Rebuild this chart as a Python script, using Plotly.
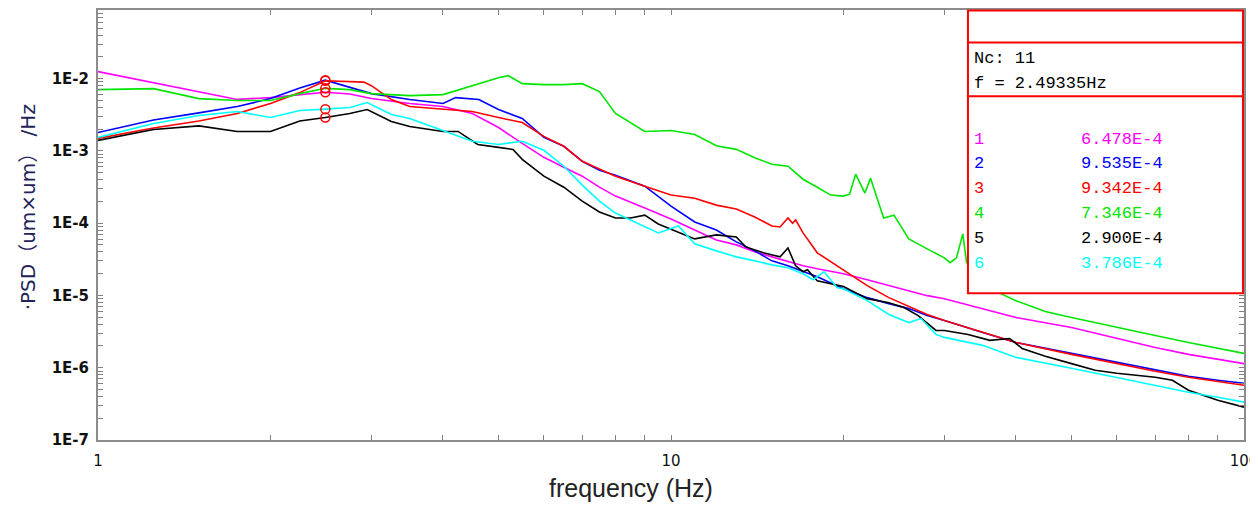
import math
import plotly.graph_objects as go

# ---------------- data ----------------
cursor_freq = 2.49335
cursor_nc = "11"

freq_1 = [1, 1.25, 1.5, 1.75, 2, 2.25, 2.49335, 2.75, 3, 3.5, 4, 4.5, 5, 5.5, 6, 6.5, 7, 7.5, 8, 9, 10,
          11, 12, 13, 14, 15, 16, 17, 18, 20, 22, 24, 26, 28, 30, 35, 40, 50, 60, 70, 80, 90, 100]
psd_1 = [1.25e-2, 8.78e-3, 6.55e-3, 5.16e-3, 5.47e-3, 6.02e-3, 6.478e-3, 6.12e-3, 5.30e-3, 4.53e-3, 4.11e-3,
         3.30e-3, 2.11e-3, 1.27e-3, 8.16e-4, 5.94e-4, 4.47e-4, 3.15e-4, 2.37e-4, 1.62e-4, 1.14e-4,
         8.06e-5, 5.87e-5, 5.01e-5, 4.02e-5, 3.42e-5, 2.92e-5, 2.57e-5, 2.34e-5, 2.00e-5, 1.65e-5,
         1.37e-5, 1.16e-5, 9.94e-6, 9.03e-6, 6.58e-6, 4.95e-6, 3.60e-6, 2.54e-6, 1.91e-6, 1.53e-6,
         1.30e-6, 1.14e-6]

freq_2 = [1, 1.25, 1.5, 1.75, 2, 2.25, 2.49335, 2.75, 3, 3.5, 4, 4.21, 4.62, 5, 5.5, 6, 6.5, 7, 7.5, 8, 9,
          10, 11, 12, 13, 14, 15, 16, 17, 18, 20, 22, 24, 26, 28, 30, 35, 40, 50, 60, 70, 80, 90, 100]
psd_2 = [1.80e-3, 2.68e-3, 3.36e-3, 4.11e-3, 5.30e-3, 7.40e-3, 9.535e-3, 7.52e-3, 6.21e-3, 5.14e-3, 4.53e-3,
         5.47e-3, 5.14e-3, 3.74e-3, 2.81e-3, 1.54e-3, 1.16e-3, 7.19e-4, 5.41e-4, 4.62e-4, 3.25e-4,
         1.72e-4, 1.04e-4, 8.06e-5, 5.51e-5, 4.14e-5, 3.01e-5, 2.57e-5, 2.13e-5, 1.81e-5, 1.24e-5,
         9.33e-6, 7.71e-6, 6.58e-6, 5.27e-6, 4.50e-6, 3.08e-6, 2.24e-6, 1.58e-6, 1.18e-6, 9.21e-7,
         7.61e-7, 6.71e-7, 6.10e-7]

freq_3 = [1, 1.25, 1.5, 1.75, 2, 2.25, 2.49335, 2.75, 2.91, 3.0, 3.25, 3.5, 4, 4.5, 5, 5.5, 6, 6.5, 7, 7.5,
          8, 9, 10, 11, 12, 13, 14, 15, 15.5, 16, 16.3, 16.5, 17, 18, 20, 22, 24, 26, 28, 30, 35, 40,
          50, 60, 70, 80, 90, 100]
psd_3 = [1.49e-3, 2.08e-3, 2.60e-3, 3.30e-3, 4.53e-3, 6.41e-3, 9.342e-3, 9.09e-3, 8.95e-3, 8.0e-3, 5.14e-3,
         4.11e-3, 3.74e-3, 3.51e-3, 2.90e-3, 2.47e-3, 1.59e-3, 1.16e-3, 7.19e-4, 5.60e-4, 4.47e-4,
         3.25e-4, 2.45e-4, 2.22e-4, 1.78e-4, 1.57e-4, 1.22e-4, 9.15e-5, 8.86e-5, 1.18e-4, 1.0e-4,
         1.11e-4, 7.33e-5, 3.89e-5, 2.27e-5, 1.37e-5, 9.33e-6, 7.01e-6, 5.45e-6, 4.50e-6, 3.08e-6,
         2.24e-6, 1.53e-6, 1.14e-6, 8.92e-7, 7.37e-7, 6.49e-7, 5.72e-7]

freq_4 = [1, 1.25, 1.5, 1.75, 2, 2.25, 2.49335, 2.75, 3, 3.5, 4, 4.5, 5, 5.2, 5.5, 6, 6.5, 7, 7.5, 8, 9,
          10, 11, 12, 13, 14, 15, 16, 17, 18, 19, 20, 20.5, 21, 21.4, 21.8, 22.3, 23.5, 24.5, 26, 28,
          30, 30.7, 31.5, 32.3, 32.8, 35, 37, 40, 45, 50, 60, 70, 80, 90, 100]
psd_4 = [7.05e-3, 7.28e-3, 5.30e-3, 4.98e-3, 4.98e-3, 6.21e-3, 7.346e-3, 7.05e-3, 6.21e-3, 5.83e-3, 6.02e-3,
         8.01e-3, 1.03e-2, 1.10e-2, 8.53e-3, 8.27e-3, 8.27e-3, 8.53e-3, 6.62e-3, 3.30e-3, 1.86e-3,
         1.92e-3, 1.69e-3, 1.18e-3, 1.05e-3, 8.04e-4, 6.54e-4, 6.14e-4, 4.06e-4, 3.15e-4, 2.45e-4,
         2.37e-4, 2.52e-4, 4.76e-4, 3.47e-4, 2.61e-4, 4.20e-4, 1.18e-4, 1.29e-4, 6.06e-5, 4.41e-5,
         3.31e-5, 2.84e-5, 3.31e-5, 7.11e-5, 2.84e-5, 1.60e-5, 1.13e-5, 8.48e-6, 5.98e-6, 4.95e-6,
         3.60e-6, 2.80e-6, 2.24e-6, 1.85e-6, 1.58e-6]

freq_5 = [1, 1.25, 1.5, 1.75, 2, 2.25, 2.49335, 2.75, 2.95, 3.25, 3.5, 4, 4.25, 4.6, 5, 5.3, 5.5, 6, 6.5,
          7, 7.5, 8, 8.5, 9, 9.5, 10, 11, 12, 13, 13.5, 14.5, 15.5, 16, 16.5, 17, 17.3, 18, 20, 22,
          24, 25.5, 27, 29, 30, 33, 36, 39, 41, 45, 50, 55, 60, 65, 70, 75, 80, 90, 100]
psd_5 = [1.40e-3, 1.98e-3, 2.22e-3, 1.86e-3, 1.86e-3, 2.60e-3, 2.90e-3, 3.30e-3, 3.74e-3, 2.56e-3, 2.18e-3,
         1.86e-3, 1.86e-3, 1.23e-3, 1.12e-3, 1.05e-3, 7.66e-4, 4.47e-4, 3.15e-4, 2.02e-4, 1.43e-4,
         1.18e-4, 1.18e-4, 1.29e-4, 9.75e-5, 8.32e-5, 6.06e-5, 6.88e-5, 6.45e-5, 4.70e-5, 3.89e-5,
         3.42e-5, 4.55e-5, 2.57e-5, 2.13e-5, 2.27e-5, 1.60e-5, 1.33e-5, 9.03e-6, 7.95e-6, 6.80e-6,
         5.27e-6, 3.28e-6, 3.28e-6, 2.89e-6, 2.39e-6, 2.54e-6, 1.85e-6, 1.44e-6, 1.14e-6, 9.21e-7,
         8.37e-7, 7.86e-7, 7.37e-7, 6.71e-7, 4.88e-7, 3.55e-7, 2.85e-7]

freq_6 = [1, 1.25, 1.5, 1.75, 2, 2.25, 2.49335, 2.75, 2.95, 3.25, 3.5, 4, 4.5, 5, 5.5, 6, 6.5, 7, 7.5, 8, 9,
          9.5, 10.3, 11, 12, 13, 14, 15, 16, 17, 17.7, 18.5, 19.5, 20, 22, 24, 26, 27.3, 29, 30, 35,
          40, 50, 60, 70, 80, 90, 100]
psd_6 = [1.54e-3, 2.40e-3, 3.09e-3, 3.51e-3, 2.90e-3, 3.62e-3, 3.786e-3, 3.99e-3, 4.67e-3, 3.19e-3, 2.81e-3,
         1.92e-3, 1.36e-3, 1.23e-3, 1.36e-3, 1.02e-3, 6.14e-4, 3.36e-4, 2.02e-4, 1.38e-4, 8.86e-5,
         7.33e-5, 9.15e-5, 5.18e-5, 4.14e-5, 3.42e-5, 3.01e-5, 2.65e-5, 2.42e-5, 2.00e-5, 1.65e-5,
         2.13e-5, 1.28e-5, 1.24e-5, 8.48e-6, 5.45e-6, 4.22e-6, 4.79e-6, 2.89e-6, 2.63e-6, 2.04e-6,
         1.39e-6, 9.81e-7, 7.37e-7, 5.72e-7, 4.59e-7, 3.91e-7, 3.34e-7]

series_names = ["1", "2", "3", "4", "5", "6"]
series_readout = ["6.478E-4", "9.535E-4", "9.342E-4", "7.346E-4", "2.900E-4", "3.786E-4"]
series_colors = ["#FF00FF", "#0000FF", "#FF0000", "#00E600", "#000000", "#00FFFF"]

x_tick_values = [1, 2, 3, 4, 5, 6, 7, 8, 9, 10, 20, 30, 40, 50, 60, 70, 80, 90, 100]
x_tick_labels = ["1", "", "", "", "", "", "", "", "", "10", "", "", "", "", "", "", "", "", "100"]
y_decades = [-7, -6, -5, -4, -3, -2, -1]

# ---------------- figure ----------------
# the page body has an 8px margin, so the figure is laid out 8px smaller
OFF = 8
W, H = 1258 - OFF, 509 - OFF
PLOT_X0, PLOT_X1, PLOT_Y0, PLOT_Y1 = 98, 1248, 8, 440     # target plot area in page pixels
L, R = PLOT_X0 - OFF, W - (PLOT_X1 - OFF)
T, B = PLOT_Y0 - OFF, H - (PLOT_Y1 - OFF)


def px(xp):
    return (xp - PLOT_X0) / (PLOT_X1 - PLOT_X0)


def py(yp):
    return (PLOT_Y1 - yp) / (PLOT_Y1 - PLOT_Y0)


freqs = [freq_1, freq_2, freq_3, freq_4, freq_5, freq_6]
psds = [psd_1, psd_2, psd_3, psd_4, psd_5, psd_6]

fig = go.Figure()
for f, p, c, n in zip(freqs, psds, series_colors, series_names):
    fig.add_trace(go.Scatter(x=f, y=p, mode="lines", name=n,
                             line=dict(color=c, width=1.6), hoverinfo="skip"))

cursor_y = [p[f.index(cursor_freq)] for f, p in zip(freqs, psds)]
fig.add_trace(go.Scatter(x=[cursor_freq] * len(cursor_y), y=cursor_y, mode="markers",
                         marker=dict(symbol="circle-open", size=9, color="#FF0000",
                                     line=dict(color="#FF0000", width=1.5)),
                         hoverinfo="skip"))

y_tick_values, y_tick_labels = [], []
for d in y_decades:
    for m in range(1, 10):
        y_tick_values.append(m * 10 ** d)
        y_tick_labels.append("1E%d" % d if m == 1 else "")

axis_common = dict(showline=True, linecolor="#8c8c8c", linewidth=2, mirror="ticks",
                   ticks="inside", ticklen=5, tickwidth=1, tickcolor="#808080",
                   showgrid=False, zeroline=False, ticklabeloverflow="allow")

fig.update_xaxes(type="log", range=[0, 2], tickmode="array", tickvals=x_tick_values,
                 ticktext=x_tick_labels, tickfont=dict(family="DejaVu Sans", size=15, color="#111"),
                 ticklabelstandoff=6, **axis_common)
fig.update_yaxes(type="log", range=[-7, -1.05], tickmode="array", tickvals=y_tick_values,
                 ticktext=y_tick_labels,
                 tickfont=dict(family="DejaVu Sans", size=15, color="#111", weight="bold"),
                 ticklabelstandoff=4, **axis_common)

shapes = [
    dict(type="line", xref="x", yref="paper", x0=math.log10(cursor_freq), x1=math.log10(cursor_freq),
         y0=0, y1=1, line=dict(color="#FF0000", width=1.5, dash="5px,4px"), layer="above"),
    dict(type="rect", xref="paper", yref="paper", x0=px(971), x1=px(1247), y0=py(292.5), y1=py(8.5),
         fillcolor="white", line=dict(color="#FF0000", width=2), layer="above"),
    dict(type="line", xref="paper", yref="paper", x0=px(971), x1=px(1247), y0=py(40.7), y1=py(40.7),
         line=dict(color="#FF0000", width=2), layer="above"),
    dict(type="line", xref="paper", yref="paper", x0=px(971), x1=px(1247), y0=py(94.7), y1=py(94.7),
         line=dict(color="#FF0000", width=2), layer="above"),
]

mono = "Liberation Mono"
ann = [
    dict(text="Nc: " + cursor_nc, x=px(975), y=py(57), xanchor="left", yanchor="middle",
         font=dict(family=mono, size=17, color="#000")),
    dict(text="f = %sHz" % cursor_freq, x=px(975), y=py(82), xanchor="left", yanchor="middle",
         font=dict(family=mono, size=17, color="#000")),
]
row_y = [137.7, 162.3, 187.7, 212.3, 237.3, 262.7]
for n, v, c, ry in zip(series_names, series_readout, series_colors, row_y):
    ann.append(dict(text=n, x=px(975), y=py(ry), xanchor="left", yanchor="middle",
                    font=dict(family=mono, size=17, color=c)))
    ann.append(dict(text=v, x=px(1082), y=py(ry), xanchor="left", yanchor="middle",
                    font=dict(family=mono, size=17, color=c)))

ann.append(dict(text="·PSD（um×um） /Hz", x=px(28), y=py(206), textangle=-90,
                xanchor="center", yanchor="middle",
                font=dict(family="DejaVu Sans, Noto Sans CJK SC", size=20, color="#23235a")))
ann.append(dict(text="frequency (Hz)", x=px(633), y=py(488), xanchor="center", yanchor="middle",
                font=dict(family="Liberation Sans", size=25, color="#222")))
for a in ann:
    a.update(xref="paper", yref="paper", showarrow=False)

fig.update_layout(width=W, height=H, margin=dict(l=L, r=R, t=T, b=B),
                  paper_bgcolor="white", plot_bgcolor="white", showlegend=False,
                  shapes=shapes, annotations=ann)

fig.write_html("out.html")
